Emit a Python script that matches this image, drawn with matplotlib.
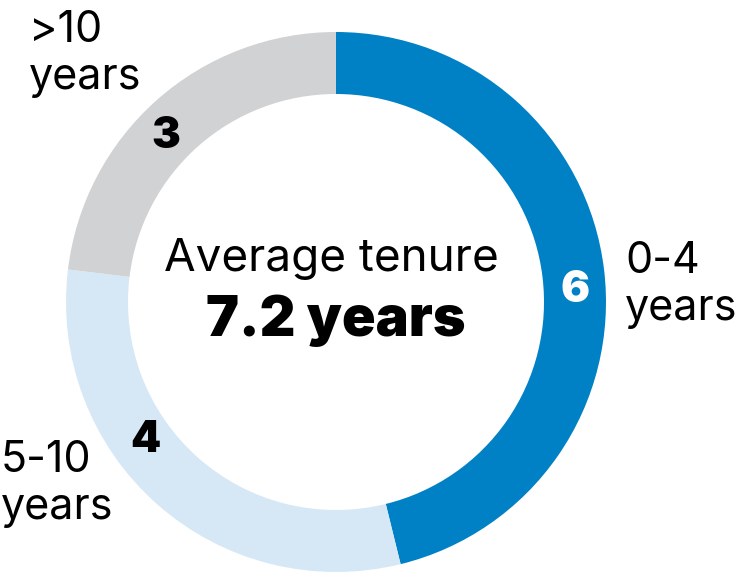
import matplotlib
matplotlib.use("Agg")
import matplotlib.pyplot as plt

categories = ["0-4\nyears", "5-10\nyears", ">10\nyears"]
values = [6, 4, 3]
colors = ["#0081C6", "#D6E8F6", "#D1D2D4"]
center_title = "Average tenure"
center_value = "7.2 years"

plt.rcParams['font.family'] = ['Inter', 'DejaVu Sans']

W, H = 738, 573
fig = plt.figure(figsize=(W / 100, H / 100), dpi=100)
ax = fig.add_axes([0, 0, 1, 1])

def py(y):
    return H - y

ax.pie(values, colors=colors, startangle=90, counterclock=False,
       radius=270, center=(336, py(302)),
       wedgeprops=dict(width=62, linewidth=0))

ax.set_xlim(0, W)
ax.set_ylim(0, H)
ax.set_aspect('equal')
ax.axis('off')

# value labels on ring
num_pos = [(575, 291), (145, 440), (166, 137)]
num_col = ["white", "black", "black"]
for v, (x, y), c in zip(values, num_pos, num_col):
    ax.text(x, py(y), str(v), ha='center', va='center', fontsize=31,
            fontweight=900, color=c)

# category labels
lab_pos = [(625, 273), (1, 472), (29, 42)]
for lab, (x, y) in zip(categories, lab_pos):
    l1, l2 = lab.split("\n")
    ax.text(x, py(y), l1, ha='left', va='baseline', fontsize=31, color='black')
    ax.text(x, py(y + 47), l2, ha='left', va='baseline', fontsize=31, color='black')

# center text
ax.text(331, py(271), center_title, ha='center', va='baseline', fontsize=33,
        color='black')
ax.text(336, py(336), center_value, ha='center', va='baseline', fontsize=40,
        fontweight=900, color='black')

fig.savefig("out.png", dpi=100)
